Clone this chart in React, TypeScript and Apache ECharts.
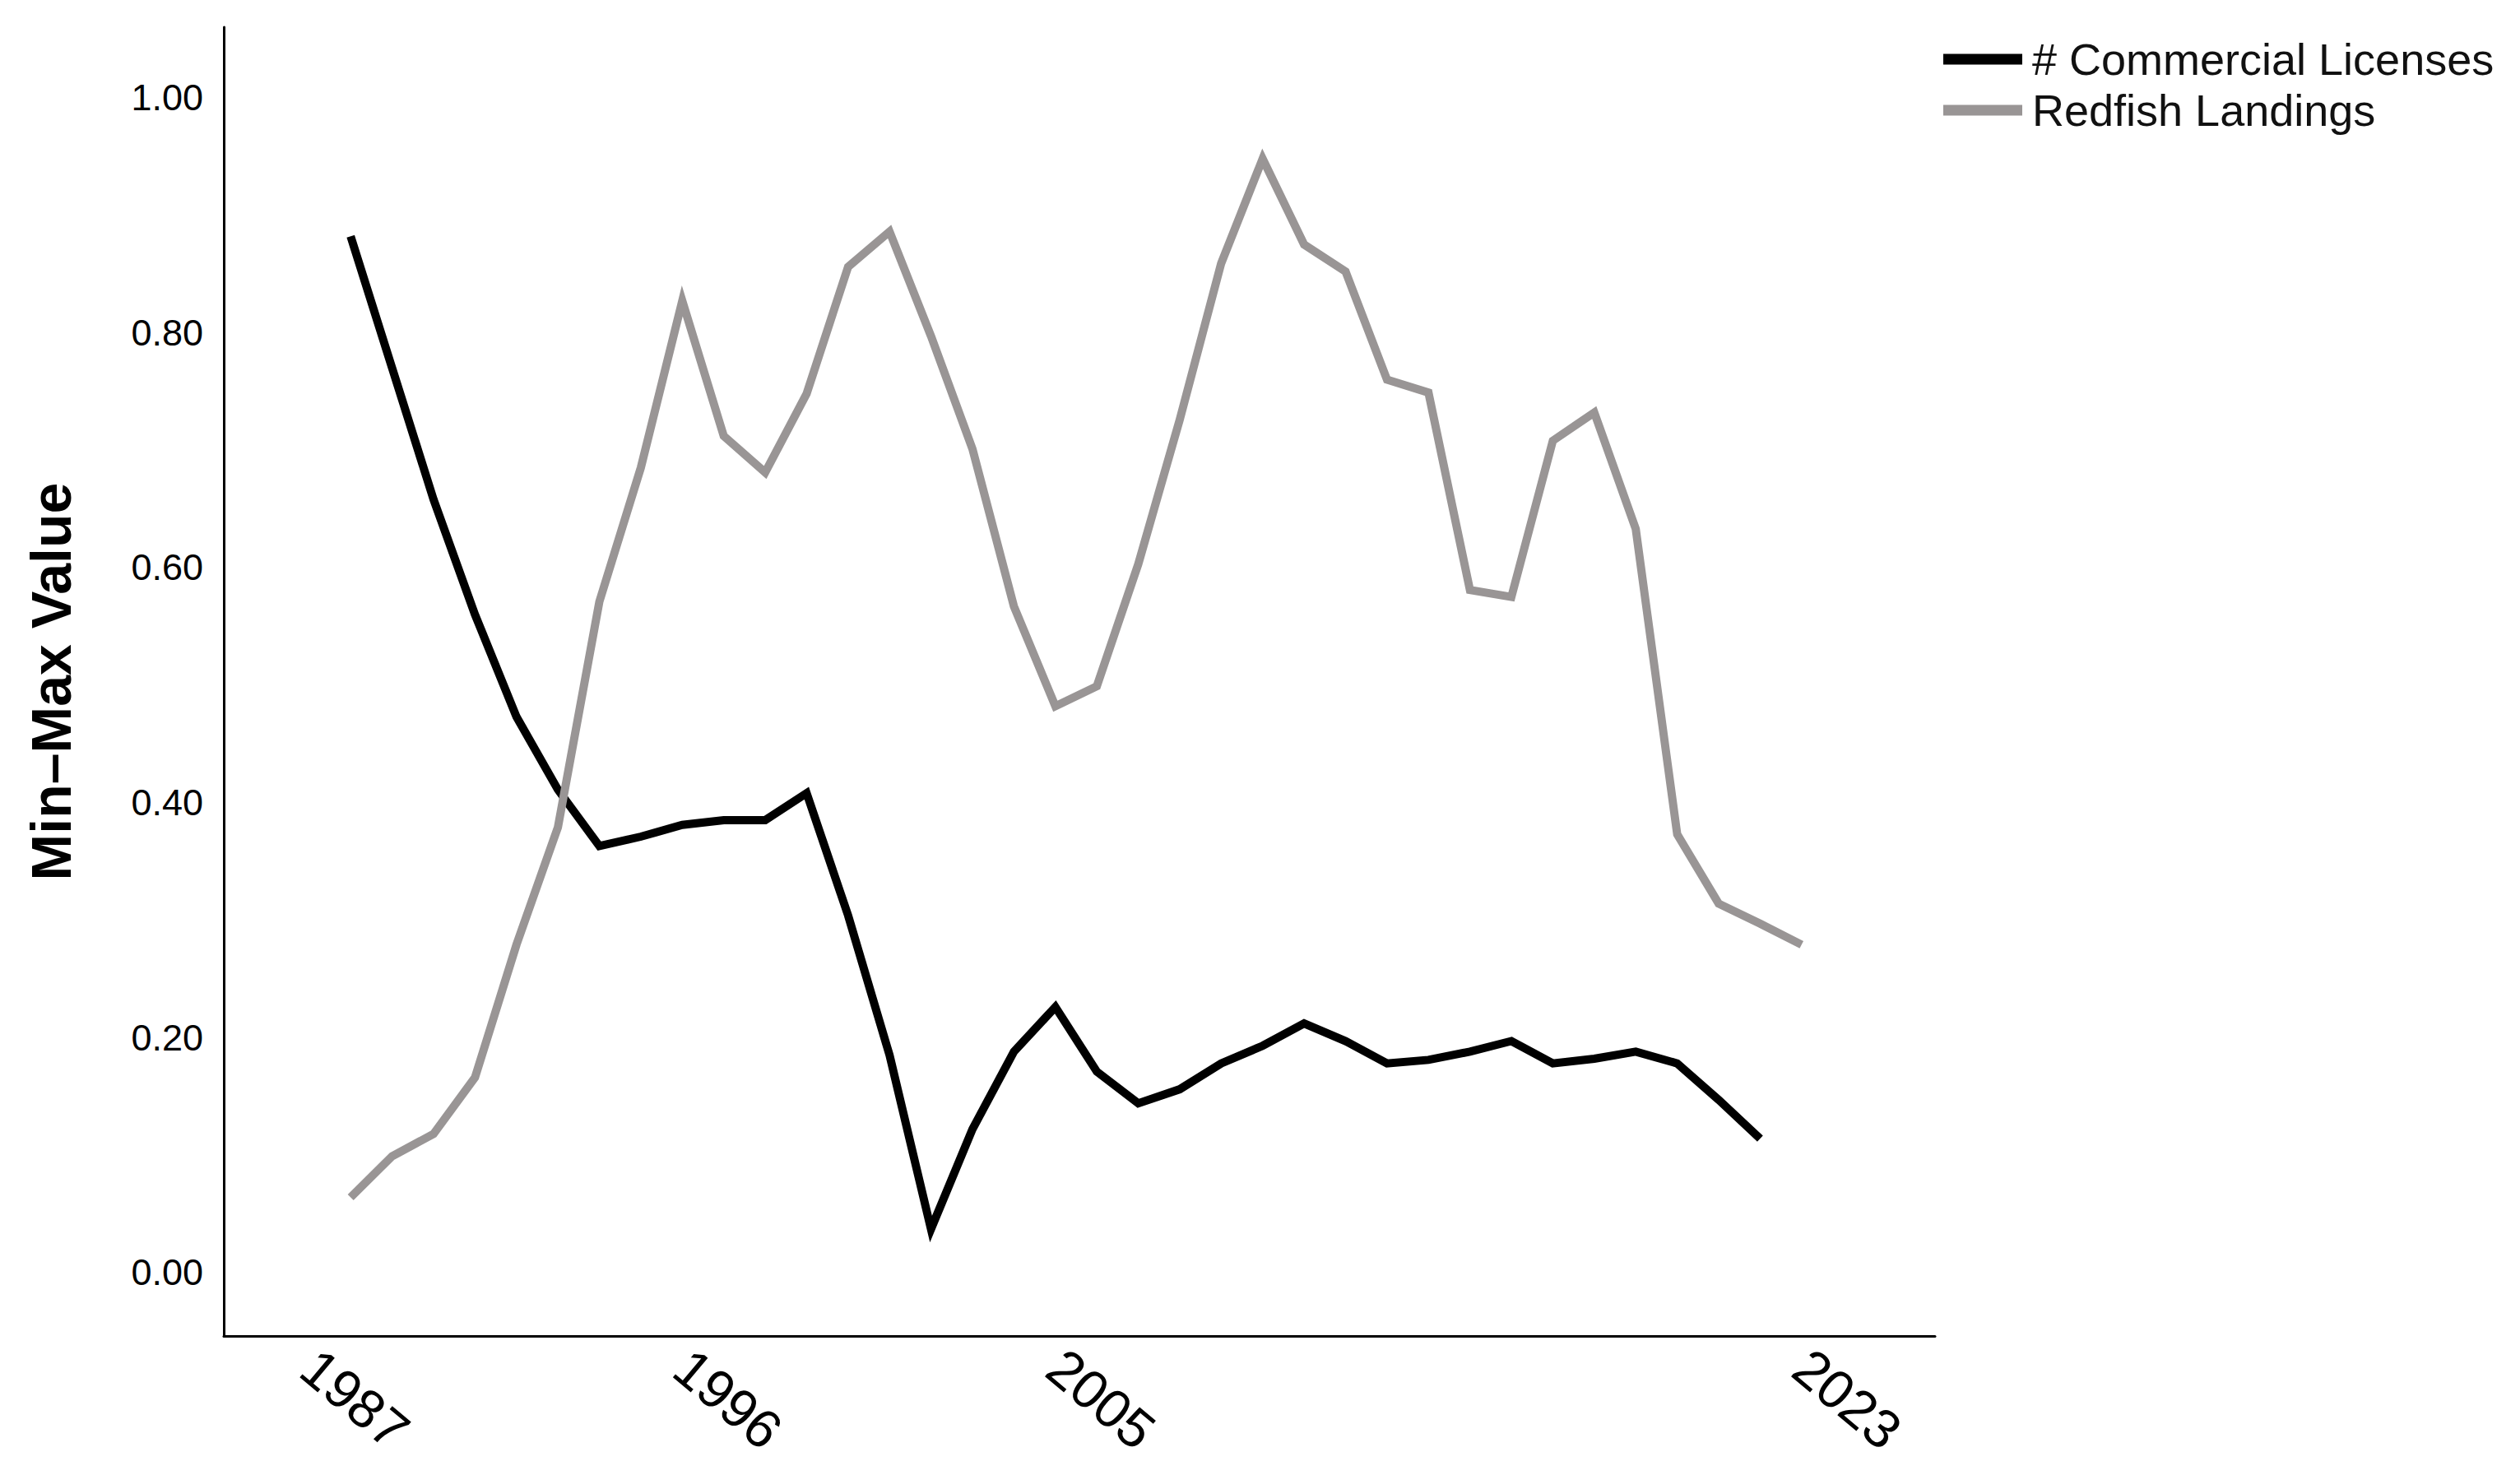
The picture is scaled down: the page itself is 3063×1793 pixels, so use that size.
import React, { useEffect, useRef } from "react";
import * as echarts from "echarts";

const years: number[] = [
  1987, 1988, 1989, 1990, 1991, 1992, 1993, 1994, 1995, 1996, 1997, 1998,
  1999, 2000, 2001, 2002, 2003, 2004, 2005, 2006, 2007, 2008, 2009, 2010,
  2011, 2012, 2013, 2014, 2015, 2016, 2017, 2018, 2019, 2020, 2021, 2022,
];

const licenses: number[] = [
  0.882, 0.77, 0.658, 0.56, 0.473, 0.411, 0.363, 0.371, 0.381, 0.385, 0.385,
  0.408, 0.304, 0.185, 0.037, 0.122, 0.188, 0.226, 0.171, 0.144, 0.156, 0.178,
  0.193, 0.212, 0.197, 0.178, 0.181, 0.188, 0.197, 0.178, 0.182, 0.188, 0.178,
  0.147, 0.114,
];

const landings: number[] = [
  0.064, 0.099, 0.118, 0.166, 0.279, 0.379, 0.571, 0.685, 0.827, 0.712, 0.681,
  0.748, 0.856, 0.886, 0.797, 0.701, 0.567, 0.482, 0.499, 0.603, 0.726, 0.859,
  0.948, 0.875, 0.852, 0.76, 0.749, 0.581, 0.575, 0.708, 0.732, 0.633, 0.373,
  0.314, 0.297, 0.279,
];

const xTickLabels: number[] = [1987, 1996, 2005, 2023];
const yTickLabels: number[] = [0, 0.2, 0.4, 0.6, 0.8, 1.0];

const seriesNames: string[] = ["# Commercial Licenses", "Redfish Landings"];
const FONT = "'Liberation Sans', Arial, sans-serif";

export default function App() {
  const ref = useRef<HTMLDivElement>(null);

  useEffect(() => {
    document.body.style.margin = "0";
    if (!ref.current) return;
    const chart = echarts.init(ref.current, null, { renderer: "svg" });
    chart.setOption({
      animation: false,
      backgroundColor: "#ffffff",
      grid: { left: 272, right: 711, top: 33, bottom: 169 },
      legend: {
        orient: "vertical",
        left: 2357,
        top: 36,
        itemWidth: 96,
        itemHeight: 13,
        itemGap: 0,
        icon: "rect",
        data: seriesNames,
        textStyle: {
          fontFamily: FONT,
          fontSize: 54,
          color: "#111",
          lineHeight: 62,
          padding: [0, 0, 0, 7],
        },
      },
      xAxis: {
        type: "value",
        min: 1983.94,
        max: 2025.22,
        axisLine: { show: true, onZero: false, lineStyle: { color: "#000", width: 3 } },
        axisTick: { show: false },
        splitLine: { show: false },
        axisLabel: {
          customValues: xTickLabels,
          rotate: -40,
          align: "center",
          verticalAlign: "middle",
          margin: 72,
          padding: [0, 0, 0, 14],
          fontFamily: FONT,
          fontSize: 66,
          color: "#000",
          formatter: (v: number) => String(v),
        },
      },
      yAxis: {
        type: "value",
        min: -0.054,
        max: 1.06,
        name: "Min–Max Value",
        nameLocation: "middle",
        nameRotate: 90,
        nameGap: 176,
        nameTextStyle: {
          fontFamily: FONT,
          fontSize: 68,
          fontWeight: "bold",
          color: "#000",
          padding: [0, 0, 0, 0],
        },
        axisLine: { show: true, onZero: false, lineStyle: { color: "#000", width: 3 } },
        axisTick: { show: false },
        splitLine: { show: false },
        axisLabel: {
          customValues: yTickLabels,
          margin: 25,
          fontFamily: FONT,
          fontSize: 45,
          color: "#000",
          formatter: (v: number) => v.toFixed(2),
        },
      },
      series: [
        {
          name: seriesNames[0],
          type: "line",
          symbol: "none",
          color: "#000000",
          lineStyle: { width: 10, color: "#000000", join: "miter" },
          data: licenses.map((v, i) => [years[i], v]),
        },
        {
          name: seriesNames[1],
          type: "line",
          symbol: "none",
          color: "#999595",
          lineStyle: { width: 10, color: "#999595", join: "miter" },
          data: landings.map((v, i) => [years[i], v]),
        },
      ],
    });
    return () => chart.dispose();
  }, []);

  return <div ref={ref} style={{ width: 3063, height: 1793 }} />;
}
